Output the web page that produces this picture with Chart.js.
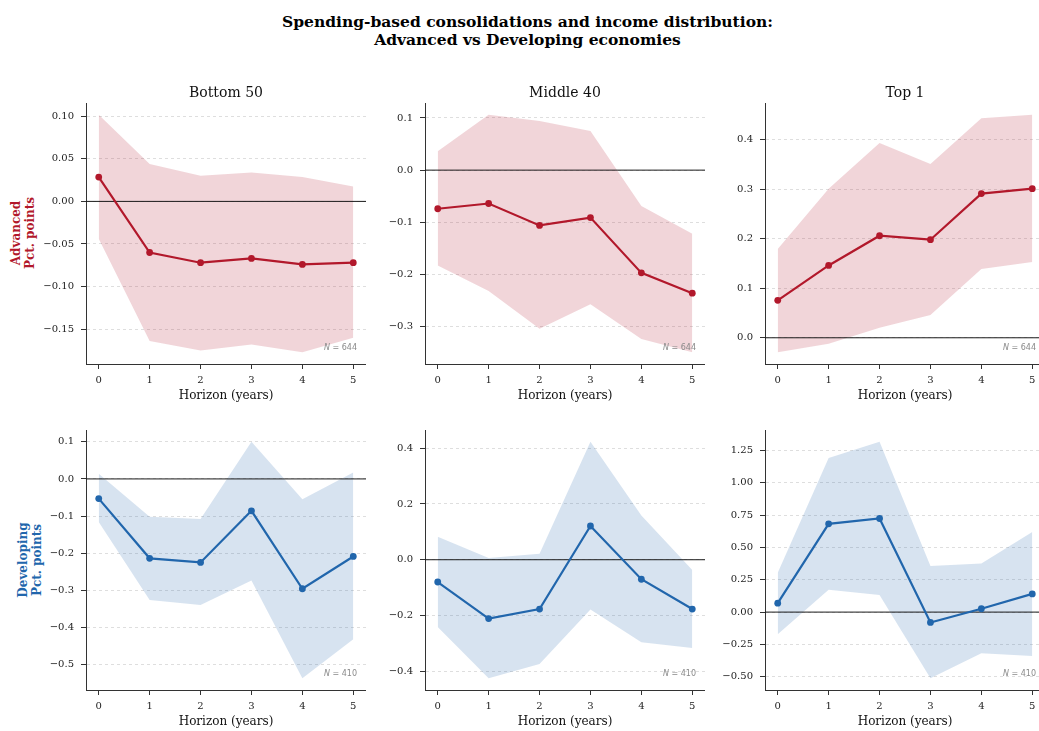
<!DOCTYPE html>
<html>
<head>
<meta charset="utf-8">
<script src="https://cdn.jsdelivr.net/npm/chart.js@4"></script>
<style>
  html, body { margin: 0; padding: 0; overflow: hidden; background: #fff; }
  body { width: 1039px; height: 731px; position: relative; font-family: 'DejaVu Serif', serif; }
  canvas { position: absolute; }
  #title { position: absolute; left: 0; top: 13px; width: 1055px; text-align: center;
           font-weight: bold; font-size: 15.5px; line-height: 18px; color: #000; }
  .rowlab { position: absolute; font-weight: bold; font-size: 12px; line-height: 13.5px;
            text-align: center; white-space: nowrap;
            transform: translate(-50%, -50%) rotate(-90deg); }
</style>
</head>
<body>
<div id="title">Spending-based consolidations and income distribution:<br>Advanced vs Developing economies</div>
<div class="rowlab" style="left:22.5px;top:233px;color:#b2182b">Advanced<br>Pct. points</div>
<div class="rowlab" style="left:29.5px;top:560px;color:#2166ac">Developing<br>Pct. points</div>

<script>
// horizons and groups
const horizons = [0, 1, 2, 3, 4, 5];
const groups = ['Bottom 50', 'Middle 40', 'Top 1'];
const advN = 644;
const devN = 410;

// Advanced economies: point estimate, upper and lower band
const advBottom50   = [0.0285, -0.060, -0.072, -0.067, -0.074, -0.072];
const advBottom50Hi = [0.1016, 0.044, 0.030, 0.034, 0.0285, 0.0176];
const advBottom50Lo = [-0.0438, -0.164, -0.175, -0.168, -0.177, -0.160];

const advMiddle40   = [-0.074, -0.064, -0.106, -0.091, -0.197, -0.236];
const advMiddle40Hi = [0.036, 0.106, 0.094, 0.075, -0.069, -0.122];
const advMiddle40Lo = [-0.183, -0.232, -0.304, -0.257, -0.324, -0.349];

const advTop1   = [0.0756, 0.146, 0.206, 0.198, 0.291, 0.301];
const advTop1Hi = [0.179, 0.301, 0.393, 0.351, 0.443, 0.450];
const advTop1Lo = [-0.029, -0.012, 0.020, 0.046, 0.139, 0.153];

// Developing economies
const devBottom50   = [-0.053, -0.214, -0.225, -0.086, -0.296, -0.209];
const devBottom50Hi = [0.014, -0.102, -0.108, 0.100, -0.055, 0.017];
const devBottom50Lo = [-0.116, -0.326, -0.340, -0.274, -0.537, -0.432];

const devMiddle40   = [-0.080, -0.211, -0.177, 0.121, -0.070, -0.177];
const devMiddle40Hi = [0.082, 0.006, 0.021, 0.423, 0.159, -0.037];
const devMiddle40Lo = [-0.241, -0.425, -0.374, -0.179, -0.296, -0.317];

const devTop1   = [0.069, 0.683, 0.724, -0.080, 0.026, 0.141];
const devTop1Hi = [0.305, 1.191, 1.317, 0.357, 0.375, 0.619];
const devTop1Lo = [-0.172, 0.172, 0.133, -0.511, -0.318, -0.339];

// y tick labels per panel
const yTicksAdv = [
  [-0.15, -0.10, -0.05, 0, 0.05, 0.10],
  [-0.3, -0.2, -0.1, 0, 0.1],
  [0, 0.1, 0.2, 0.3, 0.4]
];
const yTicksDev = [
  [-0.5, -0.4, -0.3, -0.2, -0.1, 0, 0.1],
  [-0.4, -0.2, 0, 0.2, 0.4],
  [-0.5, -0.25, 0, 0.25, 0.5, 0.75, 1.0, 1.25]
];
const yDecAdv = [2, 1, 1];
const yDecDev = [1, 1, 2];

const RED = '#b2182b', RED_FILL = 'rgba(178,24,43,0.18)';
const BLUE = '#2166ac', BLUE_FILL = 'rgba(33,102,172,0.18)';
const FONT = "'DejaVu Serif', serif";

// layout of the plot areas
const colLeft = [86, 425, 765];
const plotW = 280;
const rowTop = [103, 430];
const plotH = [261, 260];
const YW = 70, XH = 43, TH = 26;

const pts = arr => horizons.map((h, i) => ({x: h, y: arr[i]}));
const fmt = (v, d) => {
  const s = Math.abs(v).toFixed(d);
  return (v < -1e-9 ? '\u2212' : '') + s;
};

function panel(row, col, mid, hi, lo, color, fill, yTicks, dec, n) {
  const cv = document.createElement('canvas');
  const w = YW + plotW, h = TH + plotH[row] + XH;
  cv.width = w; cv.height = h;
  cv.style.left = (colLeft[col] - YW) + 'px';
  cv.style.top = (rowTop[row] - TH) + 'px';
  document.body.appendChild(cv);

  const dmin = Math.min(...lo, ...mid), dmax = Math.max(...hi, ...mid);
  const pad = (dmax - dmin) * 0.05;

  // subplot title (top row) and sample-size note, placed on the plot area
  const notes = {
    id: 'notes',
    afterDraw(chart) {
      const ctx = chart.ctx, a = chart.chartArea;
      ctx.save();
      if (row === 0) {
        ctx.fillStyle = '#111';
        ctx.font = "14px 'DejaVu Serif'";
        ctx.textAlign = 'center';
        ctx.textBaseline = 'middle';
        ctx.fillText(groups[col], (a.left + a.right) / 2, a.top - 10);
      }
      const x = a.right - 9, y = a.bottom - 16;
      ctx.fillStyle = '#8a8a8a';
      ctx.textBaseline = 'middle';
      ctx.textAlign = 'right';
      ctx.font = "8px 'DejaVu Sans'";
      const rest = ' = ' + n;
      ctx.fillText(rest, x, y);
      const rw = ctx.measureText(rest).width;
      ctx.font = "italic 8px 'DejaVu Sans'";
      ctx.fillText('N', x - rw, y);
      ctx.restore();
    }
  };

  new Chart(cv, {
    type: 'line',
    data: {
      datasets: [
        { data: pts(mid), borderColor: color, backgroundColor: color, borderWidth: 2.2,
          pointRadius: 3.4, pointBorderWidth: 0, pointBackgroundColor: color, tension: 0, fill: false },
        { data: [{x: -0.25, y: 0}, {x: 5.25, y: 0}], borderColor: '#1a1a1a', borderWidth: 1,
          pointRadius: 0, fill: false },
        { data: pts(hi), borderColor: 'transparent', backgroundColor: fill, pointRadius: 0,
          fill: '+1', tension: 0 },
        { data: pts(lo), borderColor: 'transparent', pointRadius: 0, fill: false, tension: 0 }
      ]
    },
    options: {
      responsive: false,
      animation: false,
      events: [],
      devicePixelRatio: 1,
      layout: { autoPadding: false, padding: { left: 0, right: 0, top: TH, bottom: 0 } },
      plugins: {
        legend: { display: false },
        tooltip: { enabled: false },
        title: { display: false }
      },
      scales: {
        x: {
          type: 'linear', min: -0.25, max: 5.25,
          afterBuildTicks: s => { s.ticks = horizons.map(v => ({value: v})); },
          afterFit: s => { s.height = XH; s.paddingLeft = 0; s.paddingRight = 0; },
          ticks: { color: '#222', font: { family: FONT, size: 10 }, padding: 5,
                   callback: v => String(v), maxRotation: 0 },
          grid: { drawOnChartArea: false, drawTicks: true, tickLength: 5, tickColor: '#333', tickWidth: 1 },
          border: { display: true, color: '#333', width: 1 },
          title: { display: true, text: 'Horizon (years)', color: '#111',
                   font: { family: FONT, size: 12 }, padding: { top: 4, bottom: 4 } }
        },
        y: {
          type: 'linear', min: dmin - pad, max: dmax + pad,
          afterBuildTicks: s => { s.ticks = yTicks.map(v => ({value: v})); },
          afterFit: s => { s.width = YW; s.paddingTop = 0; s.paddingBottom = 0; },
          ticks: { color: '#222', font: { family: FONT, size: 10 }, padding: 7,
                   callback: v => fmt(v, dec) },
          grid: { color: '#d6d6d6', lineWidth: 0.8, drawTicks: true, tickLength: 5,
                  tickColor: '#333', tickWidth: 1, tickBorderDash: [] },
          border: { display: true, color: '#333', width: 1, dash: [3, 3] }
        }
      }
    },
    plugins: [notes]
  });
}

panel(0, 0, advBottom50, advBottom50Hi, advBottom50Lo, RED, RED_FILL, yTicksAdv[0], yDecAdv[0], advN);
panel(0, 1, advMiddle40, advMiddle40Hi, advMiddle40Lo, RED, RED_FILL, yTicksAdv[1], yDecAdv[1], advN);
panel(0, 2, advTop1, advTop1Hi, advTop1Lo, RED, RED_FILL, yTicksAdv[2], yDecAdv[2], advN);
panel(1, 0, devBottom50, devBottom50Hi, devBottom50Lo, BLUE, BLUE_FILL, yTicksDev[0], yDecDev[0], devN);
panel(1, 1, devMiddle40, devMiddle40Hi, devMiddle40Lo, BLUE, BLUE_FILL, yTicksDev[1], yDecDev[1], devN);
panel(1, 2, devTop1, devTop1Hi, devTop1Lo, BLUE, BLUE_FILL, yTicksDev[2], yDecDev[2], devN);
</script>
</body>
</html>
